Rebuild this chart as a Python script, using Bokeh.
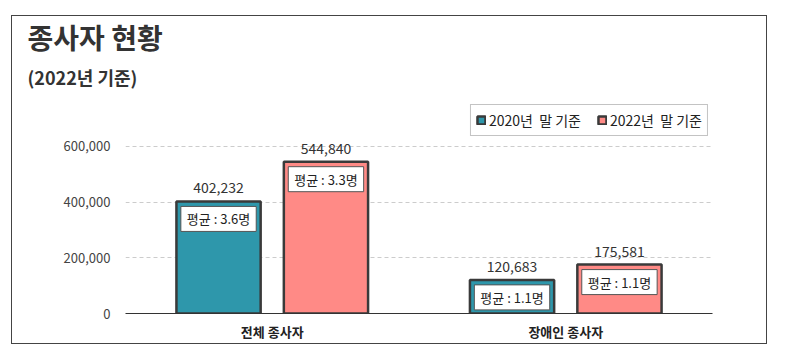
from bokeh.plotting import figure
from bokeh.models import (FactorRange, Range1d, FixedTicker, NumeralTickFormatter,
                          Legend, LegendItem, Title, ColumnDataSource)
from bokeh.transform import dodge
from bokeh.core.properties import value
from bokeh.embed import file_html
from bokeh.resources import INLINE

categories = ["전체 종사자", "장애인 종사자"]
series_names = ["2020년  말 기준", "2022년  말 기준"]
values_2020 = [402232, 120683]
values_2022 = [544840, 175581]
avg_2020 = ["평균 : 3.6명", "평균 : 1.1명"]
avg_2022 = ["평균 : 3.3명", "평균 : 1.1명"]
y_ticks = [0, 200000, 400000, 600000]
title_text = "종사자 현황"
subtitle_text = "(2022년 기준)"

FONT = "Noto Sans CJK KR"
TEAL = "#2E97AB"
PINK = "#FF8A86"
EDGE = "#3a3a3a"

src = ColumnDataSource(dict(
    cat=categories,
    v2020=values_2020,
    v2022=values_2022,
    l2020=[f"{v:,}" for v in values_2020],
    l2022=[f"{v:,}" for v in values_2022],
    a2020=avg_2020,
    a2022=avg_2022,
))

p = figure(width=754, height=327, output_backend="svg", toolbar_location=None,
           title=None,
           x_range=FactorRange(factors=categories, range_padding=0),
           y_range=Range1d(0, 764500),
           min_border_left=113, min_border_right=54, min_border_top=84, min_border_bottom=30)
p.margin = (16, 0, 0, 12)
p.styles = {"outline": "1.5px solid #444444"}
p.outline_line_color = None
p.background_fill_color = "white"
p.border_fill_color = "white"

OFF = 0.183
W = 0.287
r1 = p.vbar(x=dodge("cat", -OFF, range=p.x_range), top="v2020", width=W, source=src,
            fill_color=TEAL, line_color=EDGE, line_width=2.5)
r2 = p.vbar(x=dodge("cat", OFF, range=p.x_range), top="v2022", width=W, source=src,
            fill_color=PINK, line_color=EDGE, line_width=2.5)

for off, col in [(-OFF, "l2020"), (OFF, "l2022")]:
    p.text(x=dodge("cat", off, range=p.x_range), y=col.replace("l", "v"), text=col, source=src,
           text_font=value(FONT), text_font_size="14px", text_color="#333333",
           text_align="center", text_baseline="bottom", y_offset=-8)

for off, col in [(-OFF, "a2020"), (OFF, "a2022")]:
    p.text(x=dodge("cat", off, range=p.x_range), y=col.replace("a", "v"), text=col, source=src,
           text_font=value(FONT), text_font_size="13px", text_color="#222222",
           anchor="top_center", y_offset=5,
           padding=dict(left=6, right=6, top=3, bottom=3),
           background_fill_color="white", border_line_color="#555555", border_line_width=1)

# axes
p.xaxis.axis_line_color = "#333333"
p.xaxis.axis_line_width = 1.2
p.xaxis.major_tick_line_color = None
p.xaxis.minor_tick_line_color = None
p.xaxis.major_tick_out = 0
p.xaxis.major_tick_in = 0
p.xaxis.major_label_text_font = FONT
p.xaxis.major_label_text_font_size = "13px"
p.xaxis.major_label_text_font_style = "bold"
p.xaxis.major_label_text_color = "#222222"
p.xaxis.major_label_standoff = 8

p.yaxis.ticker = FixedTicker(ticks=y_ticks)
p.yaxis.formatter = NumeralTickFormatter(format="0,0")
p.yaxis.axis_line_color = None
p.yaxis.major_tick_line_color = None
p.yaxis.minor_tick_line_color = None
p.yaxis.major_tick_out = 0
p.yaxis.major_tick_in = 0
p.yaxis.major_label_standoff = 15
p.yaxis.major_label_text_font = FONT
p.yaxis.major_label_text_font_size = "13px"
p.yaxis.major_label_text_color = "#444444"

p.xgrid.grid_line_color = None
p.ygrid.ticker = FixedTicker(ticks=y_ticks)
p.ygrid.grid_line_color = "#cccccc"
p.ygrid.grid_line_dash = "4 3"
p.ygrid.grid_line_width = 1

legend = Legend(items=[LegendItem(label=series_names[0], renderers=[r1]),
                       LegendItem(label=series_names[1], renderers=[r2])],
                location="top_right", orientation="horizontal",
                label_text_font=FONT, label_text_font_size="14px", label_text_color="#222222",
                glyph_width=10, glyph_height=10, label_height=16, label_standoff=3,
                spacing=16, padding=5, margin=4,
                border_line_color="#888888", border_line_width=1,
                background_fill_color="white", background_fill_alpha=1)
p.add_layout(legend, "center")

p.add_layout(Title(text=subtitle_text, align="left", offset=-98, standoff=21,
                   text_font=FONT, text_font_size="18px", text_font_style="bold",
                   text_color="#333333"), "above")
p.add_layout(Title(text=title_text, align="left", offset=-98, standoff=-10,
                   text_font=FONT, text_font_size="28px", text_font_style="bold",
                   text_color="#333333"), "above")

open("out.html", "w").write(file_html(p, INLINE))
